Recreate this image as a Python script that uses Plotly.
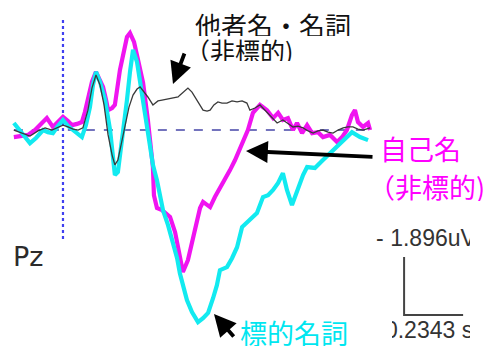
import plotly.graph_objects as go

# ---------------- data (time in ms, amplitude in uV; negative plotted up) ----------------
t_own = [-195,-171,-139,-111,-87,-64,-40,-20,0,20,36,56,75,87,99,115,131,147,159,171,
         179,195,206,226,242,254,266,282,298,318,337,349,357,361,373,393,413,425,445,457,
         476,496,512,528,544,556,572,584,603,623,643,663,683,703,719,734,754,782,810,834,
         854,873,893,913,929,949,969,989,1012,1032,1060,1088,1108,1127,1147,1159,1171,1191,1211,1219]
v_own = [0.23,0.20,0.16,0,-0.20,-0.39,-0.10,-0.26,-0.43,-0.29,-0.16,-0.20,-0.26,-0.59,-0.98,-1.57,-1.90,-1.64,-1.41,-0.98,
         -0.65,-0.72,-0.82,-1.96,-2.68,-3.04,-3.17,-2.88,-2.29,-1.54,-0.33,0.65,1.21,2.13,2.55,2.62,2.78,2.84,3.34,3.92,
         4.64,4.25,3.66,3.01,2.55,2.35,2.45,2.52,2.19,1.90,1.64,1.31,0.98,0.59,0.26,0,-0.56,-0.82,-0.65,-0.39,
         -0.56,-0.33,-0.39,0,-0.23,0.10,-0.16,0.10,0.07,0.23,0.16,0.39,0.23,0,-0.49,-0.65,-0.26,-0.10,-0.23,0]

t_target = [-195,-183,-163,-131,-107,-79,-60,-40,-20,0,20,40,60,75,91,107,119,131,147,167,
            187,199,206,218,230,242,254,266,278,294,310,326,341,357,373,385,397,417,437,453,
            464,480,492,512,536,556,576,596,611,623,651,671,691,711,730,754,770,794,814,834,
            854,873,889,909,933,953,969,1000,1032,1072,1112,1147,1179,1211]
v_target = [-0.23,-0.10,0.07,0.43,0.26,0,0.07,0.10,-0.13,-0.33,-0.13,0,0.13,0.23,-0.16,-0.75,-1.47,-1.90,-1.57,-0.98,
            0,0.82,1.47,1.37,0.65,-0.16,-0.98,-1.90,-2.62,-2.22,-1.31,-0.39,0.33,1.14,1.64,2.13,2.62,3.11,3.70,4.19,
            4.68,5.17,5.56,5.95,6.28,6.15,5.98,5.49,5.07,4.58,4.48,4.19,3.83,3.17,3.01,2.84,2.71,2.19,2.13,1.96,
            1.73,1.41,1.96,2.45,1.86,1.47,1.21,1.24,0.98,0.65,0.33,0.07,0.23,0.33]

t_other = [-195,-171,-131,-99,-71,-44,-20,0,20,40,60,79,99,115,131,147,163,179,195,206,
           218,234,246,262,278,294,306,322,337,357,377,393,413,437,457,464,480,496,512,532,
           544,556,572,584,599,615,631,651,671,691,711,730,742,762,782,802,822,850,873,893,
           913,933,953,973,993,1012,1032,1052,1072,1092,1112,1131,1151,1171,1191,1219]
v_other = [0,0.07,0.20,0.03,-0.07,0,-0.10,-0.16,-0.10,-0.03,0,-0.07,-0.65,-1.37,-1.80,-1.47,-0.82,0.16,0.82,1.14,
           0.98,0.33,-0.10,-0.75,-1.14,-1.34,-1.41,-1.24,-1.08,-0.82,-0.95,-0.98,-1.01,-1.05,-1.08,-1.14,-1.24,-1.37,-1.24,-0.98,
           -0.78,-0.65,-0.62,-0.65,-0.82,-0.92,-0.88,-0.88,-0.95,-0.92,-0.95,-0.88,-0.65,-0.72,-0.82,-0.65,-0.49,-0.23,-0.33,-0.20,
           -0.10,-0.13,-0.07,0.03,0.10,0.03,0,0.07,0.10,0,-0.07,-0.10,-0.10,-0.03,0,-0.07]

scale_uv = 1.896      # uV
scale_s = 0.2343      # s
label_uv = "- 1.896uV"
label_s = "0.2343 s"

MAG = "#f014f0"
CYAN = "#12eaf0"

W, H = 491, 350
X_RANGE = [-250, 1699]
Y_RANGE = [7.19, -4.25]

def px(x):
    return x / W

def py(y):
    return 1 - y / H

fig = go.Figure()
fig.add_trace(go.Scatter(x=t_own, y=v_own, mode="lines",
                         line=dict(color=MAG, width=4.2), hoverinfo="skip"))
fig.add_trace(go.Scatter(x=t_target, y=v_target, mode="lines",
                         line=dict(color=CYAN, width=4.2), hoverinfo="skip"))
fig.add_trace(go.Scatter(x=t_other, y=v_other, mode="lines",
                         line=dict(color="#3a3a3a", width=1.3), hoverinfo="skip"))

# scale bar
sb_t0 = 1354
sb_v0 = 6.05
fig.add_trace(go.Scatter(x=[sb_t0, sb_t0, sb_t0 + scale_s * 1000],
                         y=[sb_v0 - scale_uv, sb_v0, sb_v0], mode="lines",
                         line=dict(color="#444444", width=2), hoverinfo="skip"))
fig.add_trace(go.Scatter(x=[1243, 1278], y=[3.60, 6.61], mode="text",
                         text=[label_uv, label_s], textposition="middle right",
                         textfont=dict(family="Liberation Sans, Arial", size=23, color="#333333"),
                         hoverinfo="skip"))

shapes = [
    dict(type="line", xref="x", yref="y", x0=0, x1=0, y0=-3.6, y1=3.6,
         line=dict(color="#4040f0", width=2.2, dash="dot"), layer="below"),
    dict(type="line", xref="x", yref="y", x0=-195, x1=1199, y0=0, y1=0,
         line=dict(color="#4646a8", width=1.5, dash="dash"), layer="below"),
    # clip the scale labels at the right edge as in the original
    dict(type="rect", xref="paper", yref="paper", x0=px(470), x1=1, y0=0, y1=py(225),
         fillcolor="white", line=dict(width=0), layer="above"),
    dict(type="rect", xref="paper", yref="paper", x0=px(378), x1=px(392), y0=py(346), y1=py(318),
         fillcolor="white", line=dict(width=0), layer="above"),
]

CJK = "Noto Sans CJK JP"
ann = []
def text(x, y, s, color, size, h, anchor="left", font=CJK):
    ann.append(dict(xref="paper", yref="paper", x=px(x), y=py(y), text=s, showarrow=False,
                    xanchor=anchor, yanchor="middle", height=h,
                    font=dict(family=font, size=size, color=color)))

def arrow(x_tail, y_tail, x_tip, y_tip):
    ann.append(dict(xref="paper", yref="paper", axref="pixel", ayref="pixel",
                    x=px(x_tip), y=py(y_tip), ax=x_tail - x_tip, ay=y_tail - y_tip,
                    text="", showarrow=True, arrowhead=2, arrowsize=1.15, arrowwidth=3.8,
                    arrowcolor="black", standoff=0, startstandoff=0))

text(193, 25, "他者名・名詞", "#111111", 26, 23)
text(183, 49, "（非標的)", "#111111", 25, 23)
text(378, 148, "自己名", "#ff00ff", 27, 30)
text(366, 186, "（非標的)", "#ff00ff", 27, 30)
text(238, 332, "標的名詞", "#00e6f0", 27, 28)
text(11, 256, "Pz", "#2b2b2b", 27, 28, font="DejaVu Sans")

arrow(185, 52, 173, 84)
arrow(374, 157, 246, 151)
arrow(235, 338, 214, 314)

fig.update_layout(
    width=W, height=H, margin=dict(l=0, r=0, t=0, b=0),
    paper_bgcolor="white", plot_bgcolor="white", showlegend=False,
    xaxis=dict(range=X_RANGE, visible=False, fixedrange=True),
    yaxis=dict(range=Y_RANGE, visible=False, fixedrange=True),
    shapes=shapes, annotations=ann,
)

fig.write_html("out.html", config={"displayModeBar": False})
